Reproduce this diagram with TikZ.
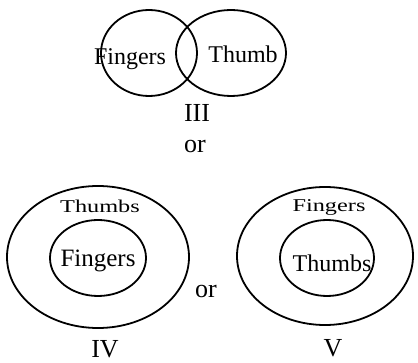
\documentclass[tikz,border=0pt]{standalone}
\usepackage{fontspec}
\setmainfont{Liberation Serif}
\newfontfamily\widefont[FakeStretch=1.35]{Liberation Serif}
\usetikzlibrary{shapes.geometric}
\tikzstyle{every node}=[inner sep=0pt,anchor=base]
\tikzstyle{set}=[line width=1.8pt]
\tikzstyle{setlabel}=[font=\fontsize{24}{24}\selectfont]
\tikzstyle{outerlabel}=[font=\widefont\fontsize{18}{18}\selectfont]
\tikzstyle{numeral}=[font=\fontsize{26}{26}\selectfont]
\tikzstyle{joiner}=[font=\fontsize{26}{26}\selectfont]

\begin{document}
\begin{tikzpicture}[x=1pt,y=-1pt]
  \useasboundingbox (0,0) rectangle (418,363);
  % overlapping sets
  \draw[set] (149,53) ellipse [x radius=48pt, y radius=43pt];
  \draw[set] (231,53) ellipse [x radius=55pt, y radius=43pt];
  \node[setlabel] (F3) at (130,65) {Fingers};
  \node[setlabel] (T3) at (243,63) {Thumb};
  \node[numeral] (N3) at (197,122) {III};
  \node[joiner] (or1) at (195,153) {or};
  % fingers inside thumbs
  \draw[set] (98,257) ellipse [x radius=91pt, y radius=71pt];
  \draw[set] (98,258) ellipse [x radius=48pt, y radius=38pt];
  \node[outerlabel] (T4) at (100,213) {Thumbs};
  \node[setlabel,font=\fontsize{25}{25}\selectfont] (F4) at (98,267) {Fingers};
  \node[numeral] (N4) at (105,358) {IV};
  \node[joiner] (or2) at (206,298) {or};
  % thumbs inside fingers
  \draw[set] (325,256) ellipse [x radius=88pt, y radius=69pt];
  \draw[set] (327,258) ellipse [x radius=47pt, y radius=38pt];
  \node[outerlabel] (F5) at (329,212) {Fingers};
  \node[setlabel] (T5) at (332,272) {Thumbs};
  \node[numeral] (N5) at (333,357) {V};
\end{tikzpicture}
\end{document}
